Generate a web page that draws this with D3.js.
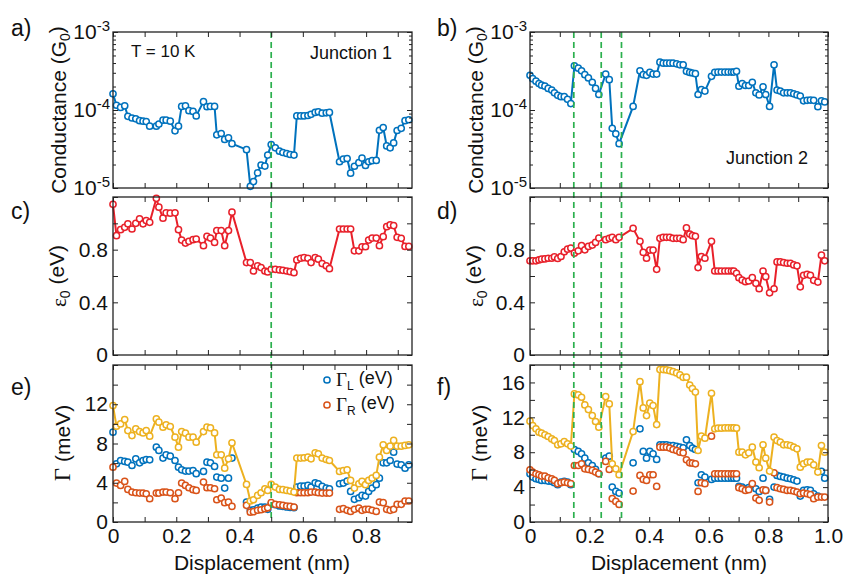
<!DOCTYPE html>
<html>
<head>
<meta charset="utf-8">
<script src="https://cdn.jsdelivr.net/npm/d3@7"></script>
<style>
body { margin: 0; background: #fff; }
text { font-family: "Liberation Sans", Arial, sans-serif; fill: #111; }
</style>
</head>
<body>
<div id="graphique"></div>
<script>
// données jonction 1 (déplacement en nm)
const depJ1 = [0, 0.011, 0.024, 0.037, 0.047, 0.060, 0.072, 0.084, 0.095, 0.105,
  0.116, 0.137, 0.145, 0.158, 0.168, 0.181, 0.196, 0.207, 0.217, 0.229,
  0.240, 0.253, 0.263, 0.286, 0.297, 0.308, 0.321, 0.328, 0.342, 0.353,
  0.365, 0.376, 0.422, 0.434, 0.444, 0.457, 0.468, 0.480, 0.489, 0.500,
  0.513, 0.526, 0.537, 0.549, 0.560, 0.572, 0.581, 0.593, 0.604, 0.616,
  0.626, 0.639, 0.649, 0.661, 0.674, 0.684, 0.716, 0.728, 0.740, 0.751,
  0.763, 0.777, 0.787, 0.798, 0.808, 0.819, 0.832, 0.842, 0.854, 0.865,
  0.876, 0.887, 0.898, 0.911, 0.923, 0.935];
const condJ1 = [1.61e-4, 1.15e-4, 1.08e-4, 1.13e-4, 8.3e-5, 7.9e-5, 7.7e-5, 7.3e-5, 7.2e-5, 7.1e-5,
  6.2e-5, 6.2e-5, 6.6e-5, 7.4e-5, 7.4e-5, 7.2e-5, 5.4e-5, 6.2e-5, 1.11e-4, 1.13e-4,
  9.8e-5, 9.6e-5, 8.4e-5, 1.28e-4, 1.10e-4, 1.11e-4, 1.11e-4, 4.8e-5, 5.0e-5, 4.2e-5,
  4.4e-5, 3.7e-5, 3.1e-5, 1.05e-5, 1.21e-5, 1.56e-5, 1.97e-5, 1.91e-5, 2.64e-5, 3.6e-5,
  3.27e-5, 2.97e-5, 2.85e-5, 2.77e-5, 2.69e-5, 2.64e-5, 8.4e-5, 8.4e-5, 8.4e-5, 8.5e-5,
  8.8e-5, 9.3e-5, 9.5e-5, 9.1e-5, 9.2e-5, 9.3e-5, 2.17e-5, 2.35e-5, 2.39e-5, 1.55e-5,
  1.90e-5, 2.11e-5, 2.42e-5, 1.95e-5, 2.17e-5, 2.24e-5, 2.26e-5, 5.5e-5, 5.96e-5, 3.46e-5,
  3.27e-5, 3.78e-5, 5.46e-5, 5.83e-5, 7.3e-5, 7.5e-5];
const eps0J1 = [1.144, 0.906, 0.952, 0.970, 0.996, 0.957, 1.0, 1.034, 0.996, 1.021,
  1.008, 1.19, 1.123, 1.039, 1.08, 1.077, 1.08, 0.952, 0.873, 0.85,
  0.863, 0.876, 0.881, 0.83, 0.901, 0.888, 0.855, 0.945, 0.945, 0.83,
  0.945, 1.085, 0.702, 0.702, 0.638, 0.677, 0.664, 0.638, 0.631, 0.651,
  0.651, 0.646, 0.643, 0.638, 0.633, 0.625, 0.722, 0.735, 0.74, 0.735,
  0.702, 0.74, 0.728, 0.694, 0.677, 0.656, 0.957, 0.957, 0.957, 0.957,
  0.791, 0.791, 0.822, 0.822, 0.873, 0.888, 0.888, 0.83, 0.899, 0.975,
  0.988, 0.983, 0.894, 0.886, 0.825, 0.825];
const gamLJ1 = [9.15, 5.93, 6.27, 6.17, 6.1, 5.76, 6.44, 6.03, 6.27, 6.37,
  6.34, 7.63, 7.29, 6.51, 6.85, 6.71, 6.27, 5.59, 5.32, 5.19,
  5.19, 5.25, 4.92, 5.15, 6.1, 6.03, 5.66, 4.58, 4.47, 3.46,
  4.47, 6.51, 2.03, 1.19, 1.25, 1.42, 1.53, 1.53, 1.29, 1.86,
  1.76, 1.63, 1.59, 1.53, 1.49, 1.46, 3.56, 3.66, 3.66, 3.73,
  3.56, 4.0, 3.9, 3.63, 3.46, 3.39, 3.9, 3.97, 4.17, 3.12,
  2.31, 2.47, 2.71, 2.64, 3.12, 3.46, 3.8, 4.47, 6.03, 6.03,
  6.27, 7.12, 5.9, 5.83, 5.49, 5.83];
const gamRJ1 = [5.59, 3.97, 3.73, 4.14, 3.32, 3.05, 2.98, 2.95, 2.95, 2.88,
  2.37, 2.95, 2.95, 3.05, 3.05, 2.98, 2.37, 2.98, 3.97, 3.73,
  3.49, 3.29, 3.22, 4.07, 3.49, 3.49, 3.39, 2.27, 2.44, 1.97,
  2.03, 1.59, 1.7, 1.0, 1.05, 1.2, 1.25, 1.35, 1.45, 1.97,
  1.8, 1.76, 1.69, 1.63, 1.59, 1.53, 2.98, 2.98, 2.98, 2.98,
  3.05, 3.05, 2.98, 2.95, 2.95, 2.95, 1.29, 1.36, 1.19, 1.08,
  1.29, 1.42, 1.19, 1.29, 1.29, 1.19, 1.08, 2.03, 1.97, 1.29,
  1.19, 1.29, 1.8, 1.8, 2.14, 2.14];
const gamJ1 = [11.86, 9.76, 10.0, 10.44, 9.32, 8.81, 9.49, 9.22, 9.08, 9.32,
  8.75, 10.5, 10.17, 9.66, 9.9, 9.73, 8.64, 7.63, 9.22, 9.05,
  8.64, 8.64, 8.14, 9.22, 9.66, 9.59, 9.08, 6.85, 6.85, 5.49,
  6.44, 8.07, 3.83, 2.14, 2.27, 2.71, 2.98, 3.39, 3.22, 3.83,
  3.56, 3.32, 3.29, 3.22, 3.15, 3.05, 6.51, 6.51, 6.54, 6.61,
  6.44, 7.05, 6.95, 6.51, 6.37, 6.27, 5.15, 5.25, 5.32, 4.24,
  3.46, 3.9, 4.14, 3.8, 4.24, 4.47, 4.75, 6.61, 7.86, 7.29,
  7.73, 8.31, 7.73, 7.73, 7.8, 7.86];

// données jonction 2
const depJ2 = [0, 0.009, 0.020, 0.030, 0.039, 0.050, 0.061, 0.073, 0.082, 0.093, 0.104, 0.115, 0.126, 0.137,
  0.149, 0.162, 0.173, 0.184, 0.196, 0.209, 0.220, 0.231,
  0.254, 0.266, 0.276, 0.288, 0.299,
  0.346,
  0.369, 0.380, 0.391, 0.402, 0.413, 0.425,
  0.436, 0.447, 0.458, 0.469, 0.480, 0.492, 0.503, 0.514,
  0.525, 0.536, 0.545, 0.555,
  0.564, 0.575, 0.587,
  0.609,
  0.620, 0.631, 0.642, 0.654, 0.665, 0.676, 0.684, 0.693,
  0.701, 0.712, 0.723, 0.734, 0.746, 0.758, 0.769,
  0.782, 0.791, 0.804,
  0.819,
  0.829, 0.840, 0.851, 0.863, 0.874, 0.885, 0.896, 0.907,
  0.918, 0.930, 0.941, 0.952, 0.966, 0.978, 0.989];
const condJ2 = [2.78e-4, 2.52e-4, 2.34e-4, 2.18e-4, 2.08e-4, 2.02e-4, 1.89e-4, 1.80e-4, 1.66e-4, 1.54e-4, 1.48e-4, 1.48e-4, 1.37e-4, 1.21e-4,
  3.68e-4, 3.44e-4, 3.18e-4, 2.84e-4, 2.58e-4, 2.27e-4, 1.89e-4, 1.58e-4,
  2.89e-4, 2.45e-4, 5.83e-5, 4.95e-5, 3.70e-5,
  1.11e-4,
  3.18e-4, 2.84e-4, 2.78e-4, 3.03e-4, 2.89e-4, 2.89e-4,
  4.10e-4, 3.98e-4, 3.98e-4, 3.98e-4, 3.98e-4, 3.91e-4, 3.79e-4, 3.79e-4,
  3.13e-4, 3.03e-4, 2.98e-4, 2.92e-4,
  1.58e-4, 1.83e-4, 1.75e-4,
  2.70e-4,
  3.03e-4, 3.06e-4, 3.06e-4, 3.06e-4, 3.06e-4, 3.06e-4, 3.06e-4, 3.13e-4,
  2.02e-4, 2.18e-4, 2.06e-4, 2.06e-4, 2.27e-4, 1.66e-4, 1.56e-4,
  1.98e-4, 1.58e-4, 1.11e-4,
  3.79e-4,
  1.80e-4, 1.75e-4, 1.66e-4, 1.66e-4, 1.66e-4, 1.61e-4, 1.56e-4, 1.51e-4,
  1.31e-4, 1.33e-4, 1.34e-4, 1.33e-4, 1.10e-4, 1.31e-4, 1.27e-4];
const eps0J2 = [0.715, 0.715, 0.715, 0.722, 0.728, 0.73, 0.735, 0.735, 0.745, 0.733, 0.748, 0.784, 0.804, 0.812,
  0.774, 0.791, 0.83, 0.799, 0.825, 0.835, 0.855, 0.888,
  0.876, 0.886, 0.894, 0.876, 0.894,
  0.962,
  0.863, 0.779, 0.735, 0.797, 0.797, 0.651,
  0.886, 0.894, 0.894, 0.894, 0.886, 0.886, 0.886, 0.876,
  0.965, 0.919, 0.906, 0.901,
  0.664, 0.748, 0.735,
  0.863,
  0.638, 0.638, 0.638, 0.638, 0.638, 0.638, 0.638, 0.62,
  0.587, 0.569, 0.557, 0.562, 0.587, 0.544, 0.503,
  0.638, 0.595, 0.472,
  0.503,
  0.707, 0.707, 0.702, 0.697, 0.697, 0.684, 0.677, 0.518,
  0.605, 0.613, 0.605, 0.567, 0.554, 0.758, 0.715];
const gamLJ2 = [5.53, 5.15, 4.96, 4.88, 4.77, 4.77, 4.69, 4.65, 4.5, 4.27, 4.58, 4.65, 4.58, 4.27,
  8.31, 8.09, 7.82, 7.32, 6.79, 6.48, 6.03, 5.53,
  7.32, 7.55, 4.0, 3.51, 3.32,
  6.79,
  10.68, 8.09, 7.32, 8.09, 7.82, 7.17,
  8.85, 8.85, 8.85, 8.77, 8.77, 8.66, 8.58, 8.5,
  9.42, 8.77, 8.47, 8.31,
  4.5, 5.42, 5.15,
  4.88,
  5.03, 5.03, 5.03, 5.03, 5.03, 5.03, 5.03, 5.03,
  4.08, 4.0, 3.81, 3.93, 4.27, 3.81, 3.51,
  5.03, 3.62, 2.59,
  4.0,
  5.34, 5.22, 5.15, 5.03, 4.96, 4.84, 4.69, 2.97,
  3.62, 3.7, 3.62, 3.24, 2.97, 5.8, 5.03];
const gamRJ2 = [5.99, 5.72, 5.53, 5.42, 5.26, 5.26, 5.07, 4.96, 4.77, 4.39, 4.5, 4.58, 4.5, 4.39,
  6.48, 6.48, 6.67, 6.1, 6.03, 5.91, 5.72, 5.53,
  6.94, 6.03, 2.67, 2.36, 2.02,
  3.55,
  5.34, 4.88, 4.77, 5.42, 5.42, 4.08,
  8.58, 8.58, 8.58, 8.47, 8.31, 8.2, 8.01, 7.93,
  7.13, 6.79, 6.75, 6.67,
  3.51, 4.5, 4.39,
  9.84,
  5.53, 5.53, 5.53, 5.53, 5.53, 5.53, 5.53, 5.53,
  3.93, 3.81, 3.62, 3.7, 4.39, 2.75, 2.48,
  3.7, 3.62, 2.29,
  5.64,
  3.93, 3.81, 3.74, 3.62, 3.62, 3.55, 3.43, 3.24,
  3.32, 3.24, 3.13, 2.67, 2.86, 2.86, 2.86];
const gamJ2 = [11.56, 11.06, 10.68, 10.3, 10.18, 9.99, 9.8, 9.53, 9.34, 8.85, 8.96, 9.23, 8.96, 8.7,
  14.68, 14.57, 14.3, 13.42, 12.89, 12.2, 11.52, 10.87,
  14.38, 13.54, 6.67, 6.1, 5.42,
  10.37,
  16.09, 13.08, 12.2, 13.62, 13.35, 11.17,
  17.47, 17.47, 17.43, 17.35, 17.24, 17.09, 16.86, 16.59,
  16.6, 15.7, 15.3, 14.9,
  8.2, 9.84, 9.61,
  14.76,
  10.68, 10.76, 10.76, 10.79, 10.79, 10.79, 10.79, 10.76,
  8.01, 8.01, 7.7, 7.93, 8.58, 6.87, 6.22,
  8.85, 7.32, 5.84,
  9.73,
  9.34, 9.15, 8.85, 8.85, 8.77, 8.58, 8.39, 6.29,
  6.67, 6.87, 6.87, 6.56, 5.72, 8.77, 8.01];

// lignes vertes en pointillé
const traitsJ1 = [0.5];
const traitsJ2 = [0.147, 0.239, 0.307];

// graduations
const xTicksJ1 = [0, 0.1, 0.2, 0.3, 0.4, 0.5, 0.6, 0.7, 0.8, 0.9];
const xLabelsJ1 = [0, 0.2, 0.4, 0.6, 0.8];
const xTicksJ2 = [0, 0.1, 0.2, 0.3, 0.4, 0.5, 0.6, 0.7, 0.8, 0.9, 1.0];
const xLabelsJ2 = [0, 0.2, 0.4, 0.6, 0.8, 1.0];
const condMajeurs = [1e-5, 1e-4, 1e-3];
const epsTicks = [0, 0.2, 0.4, 0.6, 0.8, 1.0, 1.2];
const epsLabels = [0, 0.4, 0.8];
const gamTicksJ1 = [0, 2, 4, 6, 8, 10, 12, 14, 16];
const gamLabelsJ1 = [0, 4, 8, 12];
const gamTicksJ2 = [0, 2, 4, 6, 8, 10, 12, 14, 16, 18];
const gamLabelsJ2 = [0, 4, 8, 12, 16];

const bleu = "#0072BD", rouge = "#E8202A", orange = "#D95319", jaune = "#EDB120", vert = "#2BB04E";

const svg = d3.select("#graphique").append("svg")
  .attr("width", 846)
  .attr("height", 582);

// rangées (haut, bas) et colonnes
const rangees = [[32, 188], [197, 355], [365, 522]];
const xJ1 = d3.scaleLinear().domain([0, 0.945]).range([113, 412]);
const xJ2 = d3.scaleLinear().domain([0, 1.0]).range([530, 828]);

const yCond = d3.scaleLog().domain([1e-5, 1e-3]).range([rangees[0][1], rangees[0][0]]);
const yEps = d3.scaleLinear().domain([0, 1.2]).range([rangees[1][1], rangees[1][0]]);
const yGamJ1 = d3.scaleLinear().domain([0, 16]).range([rangees[2][1], rangees[2][0]]);
const yGamJ2 = d3.scaleLinear().domain([0, 18]).range([rangees[2][1], rangees[2][0]]);

const minorLog = [];
[1e-5, 1e-4].forEach(b => { for (let k = 2; k < 10; k++) minorLog.push(b * k); });

function fmtX(d) { return d === 0 ? "0" : d3.format(".1f")(d); }
function proche(liste, d) { return liste.some(v => Math.abs(v - d) < 1e-9); }

function styleTexte(g) {
  g.selectAll("text").attr("font-size", 21).attr("font-family", "Liberation Sans, Arial, sans-serif").attr("fill", "#111");
  g.selectAll("line").attr("stroke", "#222").attr("stroke-width", 1);
  g.select(".domain").remove();
  g.attr("font-size", null).attr("font-family", null);
}

// cadre + graduations d'un panneau
function cadre(x, y, xTicks, xLabels, yTicks, yLabels, estLog) {
  const [x0, x1] = x.range();
  const [yb, yt] = y.range();
  const g = svg.append("g");

  g.append("g").attr("transform", "translate(0," + yb + ")")
    .call(d3.axisBottom(x).tickValues(xTicks).tickSize(-5).tickPadding(6)
      .tickFormat(d => xLabels && proche(xLabels, d) ? fmtX(d) : ""))
    .call(styleTexte);
  g.append("g").attr("transform", "translate(0," + yt + ")")
    .call(d3.axisTop(x).tickValues(xTicks).tickSize(-5).tickFormat(""))
    .call(styleTexte);

  if (estLog) {
    const gl = g.append("g").attr("transform", "translate(" + x0 + ",0)")
      .call(d3.axisLeft(y).tickValues(condMajeurs).tickSize(-5).tickPadding(3).tickFormat(""))
      .call(styleTexte);
    gl.selectAll(".tick text").each(function (d) {
      const t = d3.select(this);
      t.text("10");
      t.append("tspan").attr("dy", "-0.55em").attr("font-size", 15).text(Math.round(Math.log10(d)));
    });
    g.append("g").attr("transform", "translate(" + x0 + ",0)")
      .call(d3.axisLeft(y).tickValues(minorLog).tickSize(-3).tickFormat(""))
      .call(styleTexte);
    g.append("g").attr("transform", "translate(" + x1 + ",0)")
      .call(d3.axisRight(y).tickValues(condMajeurs).tickSize(-5).tickFormat(""))
      .call(styleTexte);
    g.append("g").attr("transform", "translate(" + x1 + ",0)")
      .call(d3.axisRight(y).tickValues(minorLog).tickSize(-3).tickFormat(""))
      .call(styleTexte);
  } else {
    g.append("g").attr("transform", "translate(" + x0 + ",0)")
      .call(d3.axisLeft(y).tickValues(yTicks).tickSize(-5).tickPadding(5)
        .tickFormat(d => proche(yLabels, d) ? (d === 0 ? "0" : String(+d.toFixed(1))) : ""))
      .call(styleTexte);
    g.append("g").attr("transform", "translate(" + x1 + ",0)")
      .call(d3.axisRight(y).tickValues(yTicks).tickSize(-5).tickFormat(""))
      .call(styleTexte);
  }

  g.append("rect")
    .attr("x", x0).attr("y", yt)
    .attr("width", x1 - x0).attr("height", yb - yt)
    .attr("fill", "none").attr("stroke", "#222").attr("stroke-width", 1.3);
}

// courbe avec cercles
function serie(x, y, dep, vals, couleur, avecLigne) {
  const pts = dep.map((d, i) => [d, vals[i]]);
  if (avecLigne) {
    svg.append("path")
      .datum(pts)
      .attr("fill", "none")
      .attr("stroke", couleur)
      .attr("stroke-width", 2)
      .attr("d", d3.line().x(p => x(p[0])).y(p => y(p[1])));
  }
  svg.append("g").selectAll("circle")
    .data(pts)
    .join("circle")
    .attr("cx", p => x(p[0]))
    .attr("cy", p => y(p[1]))
    .attr("r", 3.1)
    .attr("fill", "#fff")
    .attr("stroke", couleur)
    .attr("stroke-width", 1.5);
}

// pointillés verticaux sur les trois rangées
function traits(x, liste) {
  svg.append("g").selectAll("line")
    .data(liste)
    .join("line")
    .attr("x1", d => x(d)).attr("x2", d => x(d))
    .attr("y1", rangees[0][0]).attr("y2", rangees[2][1])
    .attr("stroke", vert)
    .attr("stroke-width", 1.7)
    .attr("stroke-dasharray", "6,4");
}

// panneaux a) c) e)
serie(xJ1, yCond, depJ1, condJ1, bleu, true);
serie(xJ1, yEps, depJ1, eps0J1, rouge, true);
serie(xJ1, yGamJ1, depJ1, gamLJ1, bleu, false);
serie(xJ1, yGamJ1, depJ1, gamRJ1, orange, false);
serie(xJ1, yGamJ1, depJ1, gamJ1, jaune, true);

// panneaux b) d) f)
serie(xJ2, yCond, depJ2, condJ2, bleu, true);
serie(xJ2, yEps, depJ2, eps0J2, rouge, true);
serie(xJ2, yGamJ2, depJ2, gamLJ2, bleu, false);
serie(xJ2, yGamJ2, depJ2, gamRJ2, orange, false);
serie(xJ2, yGamJ2, depJ2, gamJ2, jaune, true);

traits(xJ1, traitsJ1);
traits(xJ2, traitsJ2);

cadre(xJ1, yCond, xTicksJ1, null, null, null, true);
cadre(xJ1, yEps, xTicksJ1, null, epsTicks, epsLabels, false);
cadre(xJ1, yGamJ1, xTicksJ1, xLabelsJ1, gamTicksJ1, gamLabelsJ1, false);
cadre(xJ2, yCond, xTicksJ2, null, null, null, true);
cadre(xJ2, yEps, xTicksJ2, null, epsTicks, epsLabels, false);
cadre(xJ2, yGamJ2, xTicksJ2, xLabelsJ2, gamTicksJ2, gamLabelsJ2, false);

// textes
function texte(x, y, t, taille, ancre) {
  return svg.append("text").attr("x", x).attr("y", y)
    .attr("font-size", taille).attr("text-anchor", ancre || "start").text(t);
}
texte(11, 36, "a)", 23); texte(437, 36, "b)", 23);
texte(11, 219, "c)", 23); texte(437, 219, "d)", 23);
texte(11, 395, "e)", 23); texte(437, 395, "f)", 23);

texte(131, 57, "T = 10 K", 17);
texte(310, 59, "Junction 1", 18);
texte(726, 164, "Junction 2", 18);

[262, 679].forEach(cx => {
  texte(cx, 570, "Displacement (nm)", 21, "middle");
});

// titres des axes y (tournés)
[66, 483].forEach(bx => {
  const t1 = svg.append("text").attr("transform", "translate(" + bx + ",110) rotate(-90)")
    .attr("font-size", 21).attr("text-anchor", "middle");
  t1.append("tspan").text("Conductance (G");
  t1.append("tspan").attr("dy", "0.3em").attr("font-size", 14).text("0");
  t1.append("tspan").attr("dy", "-0.3em").text(")");

  const t2 = svg.append("text").attr("transform", "translate(" + bx + ",276) rotate(-90)")
    .attr("font-size", 21).attr("text-anchor", "middle");
  t2.append("tspan").attr("font-family", "Liberation Serif, serif").text("ε");
  t2.append("tspan").attr("dy", "0.3em").attr("font-size", 14).text("0");
  t2.append("tspan").attr("dy", "-0.3em").text(" (eV)");

  const t3 = svg.append("text").attr("transform", "translate(" + (bx + 4) + ",443) rotate(-90)")
    .attr("font-size", 21).attr("text-anchor", "middle");
  t3.append("tspan").attr("font-family", "Liberation Serif, serif").attr("font-size", 23).text("Γ");
  t3.append("tspan").text(" (meV)");
});

// légende du panneau e)
[["L", bleu, 380], ["R", orange, 405]].forEach(([s, c, y]) => {
  svg.append("circle").attr("cx", 327).attr("cy", y).attr("r", 3.1)
    .attr("fill", "#fff").attr("stroke", c).attr("stroke-width", 1.5);
  const t = svg.append("text").attr("x", 336).attr("y", y + 6).attr("font-size", 18);
  t.append("tspan").attr("font-family", "Liberation Serif, serif").attr("font-size", 19).text("Γ");
  t.append("tspan").attr("dy", "0.35em").attr("font-size", 12).text(s);
  t.append("tspan").attr("dy", "-0.35em").text(" (eV)");
});
</script>
</body>
</html>
